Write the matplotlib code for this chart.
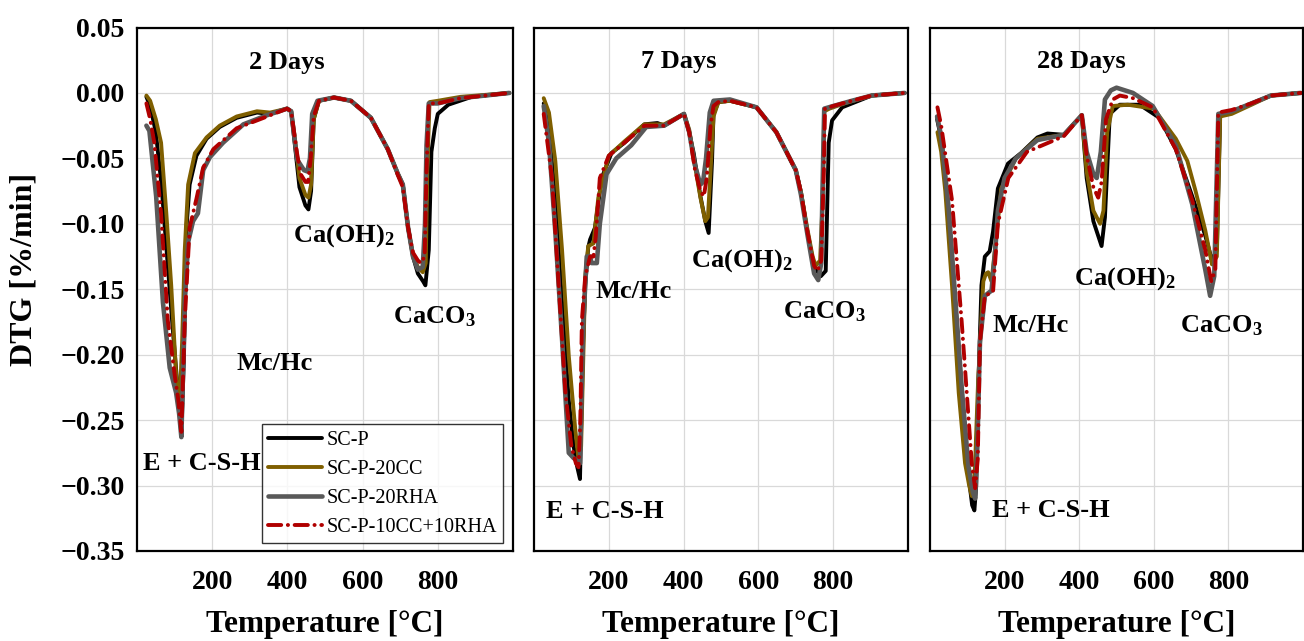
import matplotlib
matplotlib.use("Agg")
import matplotlib.pyplot as plt
from matplotlib.ticker import FixedLocator, FuncFormatter

plt.rcParams['font.family'] = ['Liberation Serif', 'DejaVu Serif']
plt.rcParams['mathtext.fontset'] = 'custom'
plt.rcParams['mathtext.rm'] = 'Liberation Serif:bold'
plt.rcParams['mathtext.it'] = 'Liberation Serif:bold'
plt.rcParams['mathtext.bf'] = 'Liberation Serif:bold'

labels = ["SC-P", "SC-P-20CC", "SC-P-20RHA", "SC-P-10CC+10RHA"]
colors = ["#000000", "#7f5f00", "#595959", "#b00000"]
widths = [2.8, 2.8, 3.3, 2.8]
ages = ["2 Days", "7 Days", "28 Days"]

# ---- 2 days ----
t2_scp = [25, 35, 50, 65, 80, 95, 108, 118, 125, 131, 140, 158, 185, 220, 265, 319, 354, 399, 410, 420, 432, 448, 456, 463, 470, 484, 524, 569, 622, 667, 694, 707, 721, 734, 747, 761, 767, 776, 783, 792, 800, 828, 890, 990]
d2_scp = [-0.003, -0.010, -0.030, -0.070, -0.125, -0.180, -0.225, -0.262, -0.200, -0.105, -0.070, -0.048, -0.035, -0.026, -0.019, -0.015, -0.016, -0.012, -0.014, -0.040, -0.072, -0.086, -0.089, -0.075, -0.020, -0.006, -0.0035, -0.006, -0.019, -0.043, -0.062, -0.070, -0.103, -0.125, -0.138, -0.144, -0.147, -0.120, -0.045, -0.027, -0.016, -0.009, -0.003, 0.000]
t2_cc = [25, 35, 50, 64, 78, 91, 104, 113, 120, 127, 136, 154, 185, 220, 265, 319, 354, 399, 410, 420, 432, 448, 456, 463, 470, 484, 524, 569, 622, 667, 694, 707, 721, 734, 747, 760, 768, 772, 778, 800, 860, 990]
d2_cc = [-0.002, -0.006, -0.020, -0.038, -0.092, -0.147, -0.215, -0.242, -0.190, -0.120, -0.070, -0.046, -0.034, -0.025, -0.018, -0.014, -0.015, -0.012, -0.014, -0.035, -0.065, -0.078, -0.080, -0.070, -0.020, -0.006, -0.0035, -0.006, -0.019, -0.043, -0.062, -0.070, -0.103, -0.124, -0.133, -0.137, -0.130, -0.060, -0.007, -0.006, -0.003, 0.000]
t2_rha = [25, 33, 51, 69, 87, 104, 112, 118, 127, 136, 149, 162, 176, 194, 229, 283, 346, 399, 410, 426, 444, 453, 460, 466, 480, 524, 569, 622, 667, 694, 707, 721, 734, 747, 760, 766, 770, 776, 800, 860, 990]
d2_rha = [-0.025, -0.029, -0.079, -0.160, -0.210, -0.229, -0.245, -0.263, -0.160, -0.114, -0.098, -0.092, -0.059, -0.049, -0.038, -0.024, -0.017, -0.012, -0.014, -0.051, -0.059, -0.060, -0.050, -0.016, -0.006, -0.0035, -0.006, -0.019, -0.043, -0.062, -0.070, -0.103, -0.125, -0.135, -0.133, -0.100, -0.040, -0.008, -0.008, -0.004, 0.000]
t2_mix = [25, 35, 46, 64, 82, 100, 110, 118, 127, 140, 158, 176, 203, 265, 337, 399, 410, 425, 435, 448, 455, 462, 470, 484, 524, 569, 622, 667, 694, 707, 721, 734, 747, 755, 765, 770, 776, 800, 860, 990]
d2_mix = [-0.008, -0.020, -0.038, -0.092, -0.174, -0.215, -0.235, -0.259, -0.174, -0.103, -0.081, -0.057, -0.043, -0.027, -0.019, -0.012, -0.014, -0.045, -0.062, -0.068, -0.068, -0.050, -0.018, -0.006, -0.0035, -0.006, -0.019, -0.043, -0.063, -0.072, -0.103, -0.122, -0.128, -0.130, -0.125, -0.060, -0.008, -0.008, -0.004, 0.000]

# ---- 7 days ----
t7_scp = [26, 40, 57, 75, 93, 106, 115, 123, 130, 137, 145, 150, 163, 181, 207, 242, 295, 330, 348, 401, 415, 427, 445, 458, 467, 476, 480, 493, 524, 595, 648, 700, 714, 731, 749, 767, 780, 788, 797, 824, 903, 991]
d7_scp = [-0.008, -0.030, -0.080, -0.160, -0.235, -0.270, -0.285, -0.295, -0.200, -0.147, -0.118, -0.112, -0.103, -0.065, -0.046, -0.038, -0.024, -0.023, -0.025, -0.016, -0.030, -0.046, -0.079, -0.098, -0.107, -0.052, -0.016, -0.007, -0.006, -0.011, -0.030, -0.059, -0.076, -0.106, -0.133, -0.140, -0.136, -0.038, -0.021, -0.011, -0.002, 0.000]
t7_cc = [26, 40, 57, 75, 93, 110, 119, 126, 132, 137, 145, 159, 172, 200, 242, 295, 348, 401, 415, 430, 445, 458, 465, 472, 480, 493, 524, 595, 648, 700, 714, 731, 745, 753, 765, 772, 776, 790, 830, 903, 991]
d7_cc = [-0.004, -0.015, -0.052, -0.120, -0.201, -0.256, -0.280, -0.270, -0.200, -0.140, -0.117, -0.115, -0.080, -0.048, -0.037, -0.024, -0.024, -0.016, -0.028, -0.055, -0.080, -0.098, -0.095, -0.060, -0.018, -0.007, -0.006, -0.011, -0.030, -0.059, -0.076, -0.104, -0.125, -0.132, -0.128, -0.080, -0.014, -0.012, -0.008, -0.002, 0.000]
t7_rha = [26, 40, 57, 75, 93, 106, 115, 123, 132, 141, 150, 154, 168, 176, 194, 220, 260, 300, 348, 401, 415, 430, 445, 452, 460, 470, 480, 524, 595, 648, 700, 714, 731, 749, 760, 768, 771, 776, 800, 850, 903, 991]
d7_rha = [-0.010, -0.038, -0.106, -0.188, -0.275, -0.279, -0.281, -0.283, -0.174, -0.125, -0.125, -0.130, -0.130, -0.100, -0.062, -0.050, -0.040, -0.026, -0.025, -0.016, -0.030, -0.055, -0.070, -0.068, -0.050, -0.015, -0.006, -0.005, -0.011, -0.030, -0.059, -0.078, -0.108, -0.138, -0.143, -0.130, -0.080, -0.012, -0.010, -0.006, -0.002, 0.000]
t7_mix = [26, 48, 66, 84, 100, 112, 119, 124, 128, 137, 150, 159, 165, 176, 200, 242, 295, 348, 401, 415, 430, 445, 454, 462, 472, 480, 493, 524, 595, 648, 700, 714, 731, 749, 758, 768, 775, 778, 800, 850, 903, 991]
d7_mix = [-0.016, -0.065, -0.147, -0.229, -0.270, -0.283, -0.286, -0.250, -0.174, -0.140, -0.125, -0.125, -0.110, -0.065, -0.048, -0.038, -0.025, -0.025, -0.016, -0.030, -0.058, -0.075, -0.079, -0.065, -0.025, -0.010, -0.007, -0.006, -0.011, -0.030, -0.059, -0.076, -0.106, -0.132, -0.136, -0.128, -0.060, -0.012, -0.010, -0.006, -0.002, 0.000]

# ---- 28 days ----
t28_scp = [19, 30, 50, 68, 85, 103, 113, 119, 124, 129, 138, 147, 160, 169, 182, 209, 244, 288, 315, 359, 407, 420, 438, 460, 469, 482, 509, 562, 615, 659, 703, 738, 756, 769, 778, 809, 862, 914, 994]
d28_scp = [-0.020, -0.035, -0.092, -0.161, -0.229, -0.292, -0.315, -0.319, -0.300, -0.229, -0.147, -0.125, -0.121, -0.106, -0.073, -0.054, -0.046, -0.034, -0.031, -0.032, -0.017, -0.065, -0.098, -0.117, -0.095, -0.016, -0.009, -0.009, -0.019, -0.043, -0.079, -0.109, -0.128, -0.120, -0.016, -0.015, -0.008, -0.002, 0.000]
t28_cc = [20, 30, 41, 59, 77, 94, 105, 112, 120, 129, 143, 150, 156, 165, 174, 191, 230, 288, 359, 407, 420, 438, 456, 465, 475, 490, 530, 600, 659, 690, 712, 738, 756, 769, 778, 809, 862, 914, 994]
d28_cc = [-0.030, -0.045, -0.075, -0.147, -0.229, -0.283, -0.300, -0.308, -0.290, -0.220, -0.144, -0.138, -0.137, -0.144, -0.120, -0.073, -0.050, -0.035, -0.032, -0.017, -0.060, -0.090, -0.100, -0.090, -0.030, -0.010, -0.009, -0.012, -0.035, -0.052, -0.075, -0.105, -0.131, -0.125, -0.018, -0.016, -0.009, -0.002, 0.000]
t28_rha = [19, 30, 50, 68, 85, 103, 115, 121, 127, 134, 147, 165, 175, 182, 200, 230, 288, 359, 407, 420, 438, 447, 458, 469, 485, 500, 544, 597, 659, 703, 738, 751, 762, 773, 809, 862, 914, 994]
d28_rha = [-0.018, -0.033, -0.088, -0.158, -0.225, -0.285, -0.305, -0.310, -0.270, -0.190, -0.155, -0.151, -0.120, -0.090, -0.065, -0.050, -0.036, -0.032, -0.017, -0.045, -0.062, -0.065, -0.045, -0.005, 0.002, 0.004, 0.000, -0.010, -0.040, -0.085, -0.135, -0.155, -0.140, -0.016, -0.014, -0.008, -0.002, 0.000]
t28_mix = [20, 30, 59, 85, 112, 121, 128, 134, 147, 169, 182, 210, 260, 359, 407, 420, 438, 451, 460, 472, 490, 509, 544, 597, 659, 703, 738, 754, 765, 773, 809, 862, 914, 994]
d28_mix = [-0.011, -0.025, -0.082, -0.175, -0.283, -0.302, -0.280, -0.190, -0.155, -0.152, -0.100, -0.065, -0.045, -0.033, -0.017, -0.048, -0.072, -0.080, -0.068, -0.020, -0.005, -0.002, -0.004, -0.011, -0.043, -0.082, -0.120, -0.144, -0.135, -0.015, -0.013, -0.008, -0.002, 0.000]

panels = [
    [(t2_scp, d2_scp), (t2_cc, d2_cc), (t2_rha, d2_rha), (t2_mix, d2_mix)],
    [(t7_scp, d7_scp), (t7_cc, d7_cc), (t7_rha, d7_rha), (t7_mix, d7_mix)],
    [(t28_scp, d28_scp), (t28_cc, d28_cc), (t28_rha, d28_rha), (t28_mix, d28_mix)],
]

# annotation positions (T, DTG) per panel: title, Ca(OH)2, CaCO3, Mc/Hc, E + C-S-H
notes = [
    [(399, 0.023), (551, -0.109), (792, -0.171), (365, -0.207), (173, -0.283)],
    [(388, 0.024), (555, -0.128), (775, -0.167), (266, -0.152), (189, -0.320)],
    [(405, 0.024), (522, -0.142), (782, -0.178), (270, -0.178), (325, -0.319)],
]
note_text = [None, "Ca(OH)$_2$", "CaCO$_3$", "Mc/Hc", "E + C-S-H"]

W, H = 1304, 641
fig = plt.figure(figsize=(W / 100, H / 100), dpi=100)
boxes = [(137, 376), (534, 374), (930, 373)]
top_px, bot_px = 27.5, 551

yt = [0.05, 0.0, -0.05, -0.10, -0.15, -0.20, -0.25, -0.30, -0.35]

for i, (x0, w) in enumerate(boxes):
    ax = fig.add_axes([x0 / W, 1 - bot_px / H, w / W, (bot_px - top_px) / H])
    for j, (t, d) in enumerate(panels[i]):
        if j == 3:
            ax.plot(t, d, color=colors[j], lw=widths[j], ls=(0, (3.4, 1.7, 0.05, 1.7)),
                    dash_capstyle="round", solid_joinstyle="round", label=labels[j])
        else:
            ax.plot(t, d, color=colors[j], lw=widths[j], solid_joinstyle="round",
                    solid_capstyle="round", label=labels[j])
    ax.set_xlim(0, 1000)
    ax.set_ylim(-0.35, 0.05)
    ax.xaxis.set_major_locator(FixedLocator([200, 400, 600, 800]))
    ax.yaxis.set_major_locator(FixedLocator(yt))
    ax.grid(True, color="#d9d9d9", lw=0.9)
    ax.set_axisbelow(True)
    ax.tick_params(axis="x", length=0, pad=14, labelsize=20)
    ax.tick_params(axis="y", length=0, pad=9, labelsize=20)
    for lab in ax.get_xticklabels():
        lab.set_fontweight("bold")
    if i == 0:
        ax.yaxis.set_major_formatter(FuncFormatter(lambda v, p: f"{v:.2f}".replace("-", "\u2212")))
        for lab in ax.get_yticklabels():
            lab.set_fontweight("bold")
    else:
        ax.set_yticklabels([])
    for s in ax.spines.values():
        s.set_linewidth(1.6)
        s.set_color("black")

    n = notes[i]
    ax.text(n[0][0], n[0][1], ages[i], ha="center", va="center", fontsize=19, fontweight="bold")
    for k in range(1, 5):
        ax.text(n[k][0], n[k][1], note_text[k], ha="center", va="center", fontsize=19, fontweight="bold")

    if i == 0:
        leg = ax.legend(loc="lower right", bbox_to_anchor=(0.973, 0.015), borderaxespad=0,
                        fontsize=14.5, frameon=True, fancybox=False, edgecolor="black",
                        handlelength=2.7, handletextpad=0.2, labelspacing=0.5, borderpad=0.3)
        leg.get_frame().set_linewidth(1.0)

    fig.text((x0 + w / 2) / W, 1 - 632 / H, "Temperature [°C]", ha="center", va="baseline",
             fontsize=22.5, fontweight="bold")

fig.text(24 / W, 1 - 269 / H, "DTG [%/min]", rotation=90, ha="center", va="center",
         fontsize=23, fontweight="bold")

fig.savefig("out.png", dpi=100)
